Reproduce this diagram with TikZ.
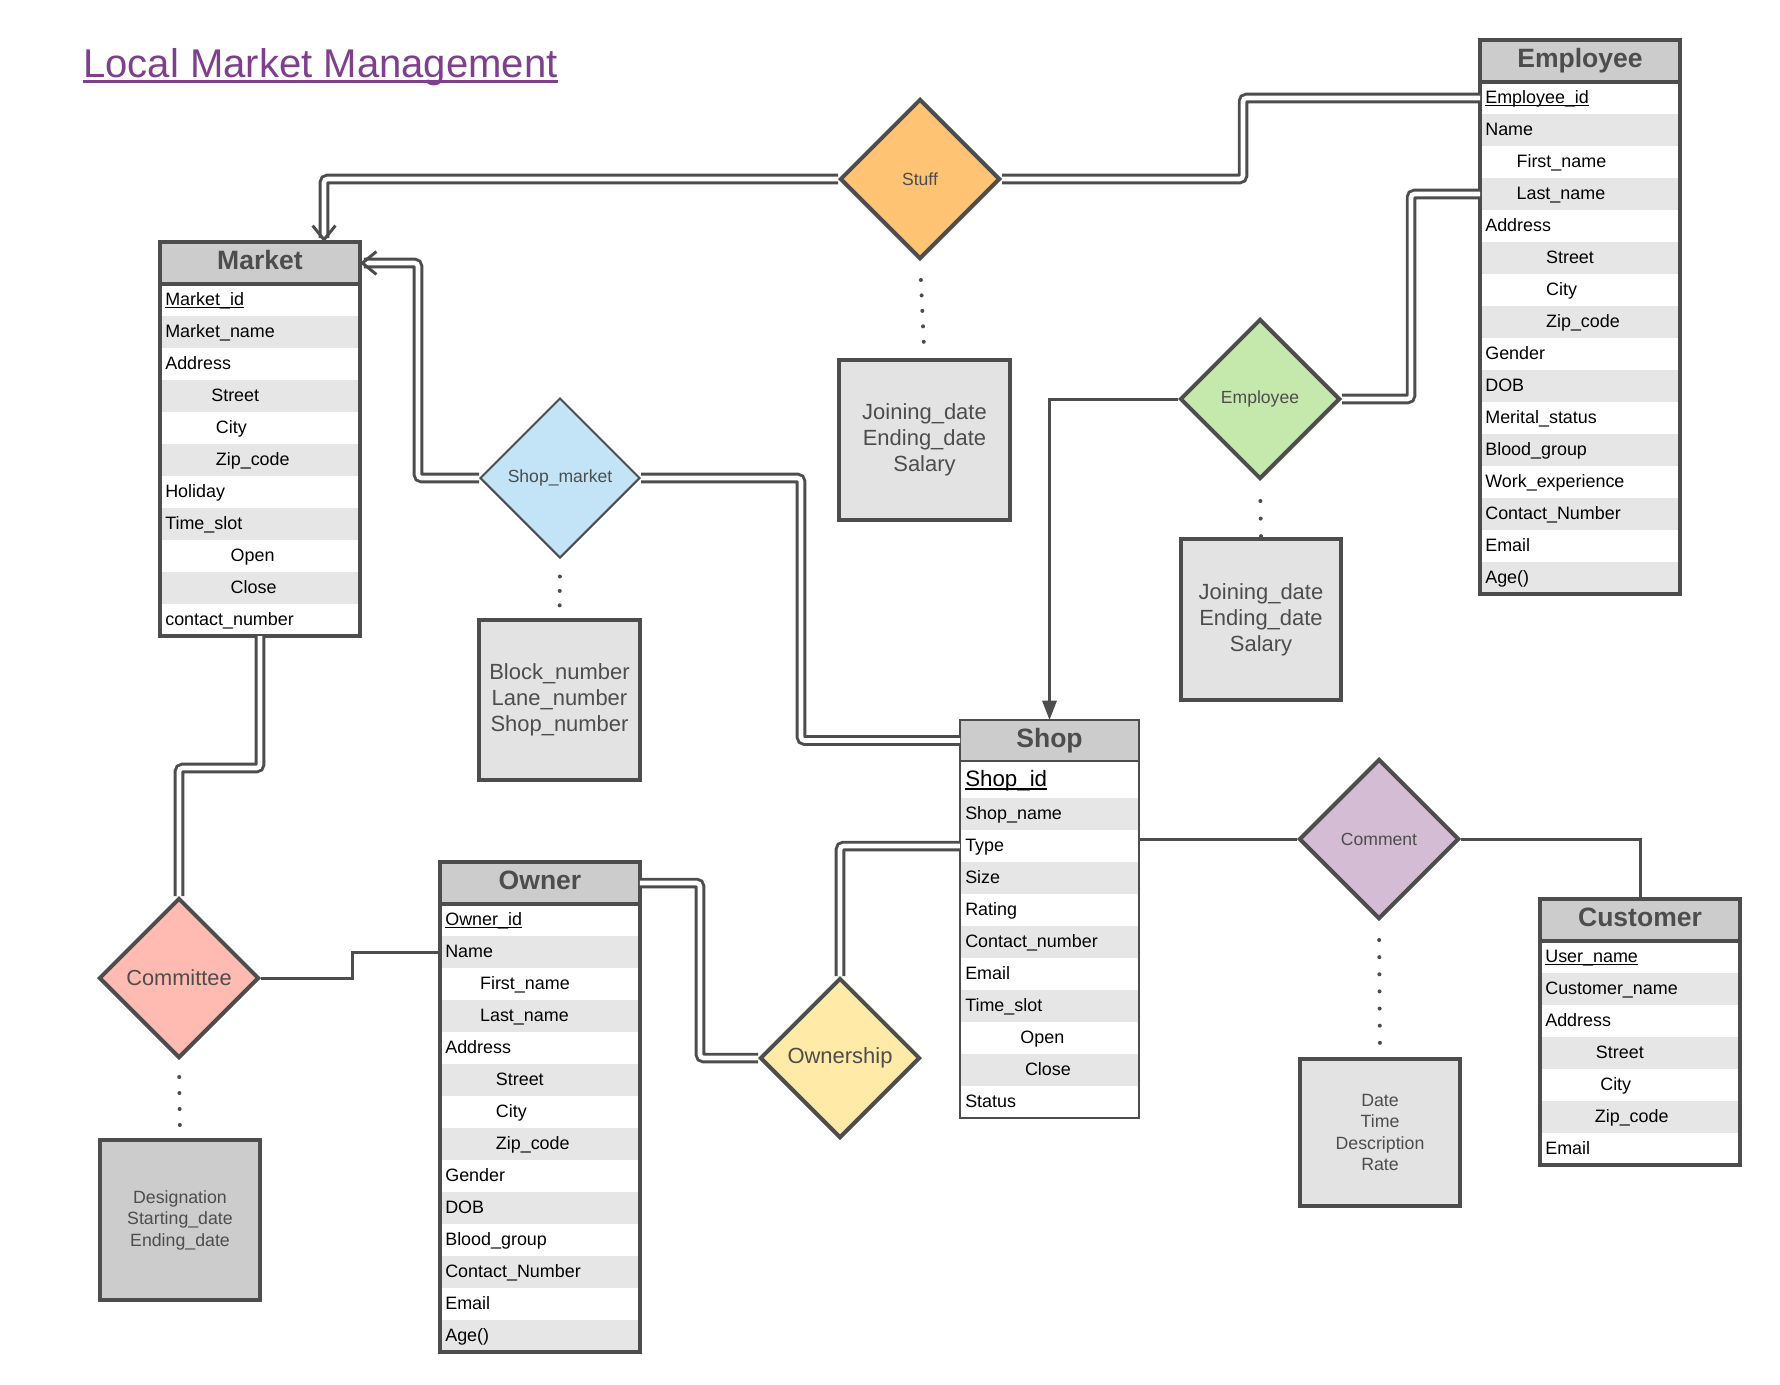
\documentclass[tikz,border=0pt]{standalone}
\usepackage{fontspec}
\setmainfont{Liberation Sans}
\usetikzlibrary{shapes.geometric, arrows.meta, calc}

\definecolor{linecol}{HTML}{4D4D4D}
\definecolor{headgray}{HTML}{CCCCCC}
\definecolor{rowgray}{HTML}{E6E6E6}
\definecolor{attrgray}{HTML}{E3E3E3}
\definecolor{titlecol}{HTML}{7E3F8C}
\definecolor{stuffcol}{HTML}{FFC374}
\definecolor{empcol}{HTML}{C5E8AD}
\definecolor{shopmktcol}{HTML}{C2E4F6}
\definecolor{commentcol}{HTML}{D5BCD5}
\definecolor{ownercol}{HTML}{FFEAA7}
\definecolor{cmtecol}{HTML}{FFBBB1}

% key attribute: underline at a fixed depth
\newcommand{\pkey}[1]{\setbox0\hbox{#1}\rlap{\copy0}\rule[-0.16em]{\wd0}{0.07em}}

\begin{document}
\begin{tikzpicture}[x=0.02cm, y=-0.02cm,
  con/.style={draw=linecol, line width=1.7pt},
  dbl/.style={draw=linecol, double=white, line width=1.7pt, double distance=2.6pt, rounded corners=2pt},
  dots/.style={draw=linecol, line width=2.3pt, line cap=round, dash pattern=on 0pt off #1},
  head/.style={draw=linecol, line width=2.3pt, fill=headgray, outer sep=0pt, inner sep=0pt,
    minimum width=4cm, minimum height=0.84cm, text=linecol, text height=10.8pt, text depth=3pt,
    font=\fontsize{15.1}{18}\bfseries},
  row/.style={minimum height=0.64cm, inner xsep=3pt, inner ysep=0pt, outer sep=0pt,
    text width=#1, align=left, text height=8.6pt, text depth=2.3pt, font=\fontsize{10.2}{12}\selectfont},
  frame/.style={draw=linecol, line width=2.3pt},
  rel/.style={diamond, aspect=1, draw=linecol, line width=2.3pt, inner sep=0pt,
    minimum width=3.2cm, minimum height=3.2cm, text=linecol, font=\fontsize{10}{12}\selectfont},
  attr/.style={draw=linecol, line width=2.3pt, fill=attrgray, inner sep=0pt, align=center,
    text=linecol, font=\fontsize{12.5}{14.8}\selectfont}
]
\useasboundingbox (0,0) rectangle (1780,1384);

% title
\node[anchor=base west, inner sep=0pt, text=titlecol, font=\fontsize{22.8}{27}\selectfont] (title) at (83,77) {Local Market Management};
\draw[titlecol, line width=1.6pt] ([yshift=-0.09cm]title.base west) -- ([yshift=-0.09cm]title.base east);

% Market
\foreach \ind/\txt [count=\i] in {0/\pkey{Market\_id}, 0/Market\_name, 0/Address, 26.2/Street, 28.8/City, 28.8/Zip\_code, 0/Holiday, 0/Time\_slot, 37.2/Open, 37.2/Close, 0/contact\_number} {
  \pgfmathtruncatemacro\f{100*(1-mod(\i,2))}
  \node[row=107.8pt, fill=rowgray!\f] (mkt\i) at (260,{268+32*\i}) {\hspace*{\ind pt}\txt};
}
\node[head] (mkthead) at (260,263) {Market};
\draw[frame] (mkthead.north west) rectangle (mkt11.south east);

% Employee
\foreach \ind/\txt [count=\i] in {0/\pkey{Employee\_id}, 0/Name, 17.8/First\_name, 17.8/Last\_name, 0/Address, 34.6/Street, 34.6/City, 34.6/Zip\_code, 0/Gender, 0/DOB, 0/Merital\_status, 0/Blood\_group, 0/Work\_experience, 0/Contact\_Number, 0/Email, 0/Age()} {
  \pgfmathtruncatemacro\f{100*(1-mod(\i,2))}
  \node[row=107.8pt, fill=rowgray!\f] (emp\i) at (1580,{66+32*\i}) {\hspace*{\ind pt}\txt};
}
\node[head] (emphead) at (1580,61) {Employee};
\draw[frame] (emphead.north west) rectangle (emp16.south east);

% Shop
\node[row=95.9pt, minimum height=0.74cm, text height=10.5pt, text depth=2.8pt, font=\fontsize{12.7}{15}\selectfont] (shop1) at (1049.5,779.5) {\pkey{Shop\_id}};
\foreach \ind/\txt [count=\i from 2] in {0/Shop\_name, 0/Type, 0/Size, 0/Rating, 0/Contact\_number, 0/Email, 0/Time\_slot, 31.4/Open, 34/Close, 0/Status} {
  \pgfmathtruncatemacro\f{100*(1-mod(\i,2))}
  \node[row=95.9pt, fill=rowgray!\f] (shop\i) at (1049.5,{750+32*\i}) {\hspace*{\ind pt}\txt};
}
\node[head, line width=1.15pt, minimum width=3.58cm, minimum height=0.82cm] (shophead) at (1049.5,740.5) {Shop};
\draw[frame, line width=1.15pt] (shophead.north west) rectangle (shop11.south east);

% Owner
\foreach \ind/\txt [count=\i] in {0/\pkey{Owner\_id}, 0/Name, 19.8/First\_name, 19.8/Last\_name, 0/Address, 28.8/Street, 28.8/City, 28.8/Zip\_code, 0/Gender, 0/DOB, 0/Blood\_group, 0/Contact\_Number, 0/Email, 0/Age()} {
  \pgfmathtruncatemacro\f{100*(1-mod(\i,2))}
  \node[row=107.8pt, fill=rowgray!\f] (own\i) at (540,{888+32*\i}) {\hspace*{\ind pt}\txt};
}
\node[head] (ownhead) at (540,883) {Owner};
\draw[frame] (ownhead.north west) rectangle (own14.south east);

% Customer
\foreach \ind/\txt [count=\i] in {0/\pkey{User\_name}, 0/Customer\_name, 0/Address, 28.8/Street, 31.3/City, 28.2/Zip\_code, 0/Email} {
  \pgfmathtruncatemacro\f{100*(1-mod(\i,2))}
  \node[row=107.8pt, fill=rowgray!\f] (cust\i) at (1640,{925+32*\i}) {\hspace*{\ind pt}\txt};
}
\node[head] (custhead) at (1640,920) {Customer};
\draw[frame] (custhead.north west) rectangle (cust7.south east);

% relationships
\node[rel, fill=stuffcol] (stuff) at (920,179) {Stuff};
\node[rel, fill=empcol] (empdia) at (1260,399) {Employee};
\node[rel, fill=shopmktcol, line width=1.15pt] (shopmkt) at (560,478) {Shop\_market};
\node[rel, fill=commentcol] (comment) at (1379,839) {Comment};
\node[rel, fill=ownercol, font=\fontsize{12.5}{15}\selectfont] (ownership) at (840,1058) {Ownership};
\node[rel, fill=cmtecol, font=\fontsize{12.4}{15}\selectfont] (committee) at (179,978) {Committee};

% relationship attributes
\node[attr, minimum width=3.42cm, minimum height=3.2cm] (stuffatt) at (924.5,440) {Joining\_date\\Ending\_date\\Salary};
\node[attr, minimum width=3.2cm, minimum height=3.22cm] (empatt) at (1261,619.5) {Joining\_date\\Ending\_date\\Salary};
\node[attr, minimum width=3.22cm, minimum height=3.2cm] (shopmktatt) at (559.5,700) {Block\_number\\Lane\_number\\Shop\_number};
\node[attr, fill=headgray, minimum width=3.2cm, minimum height=3.2cm, font=\fontsize{10.1}{12.3}\selectfont] (cmteatt) at (180,1220) {Designation\\Starting\_date\\Ending\_date};
\node[attr, minimum width=3.2cm, minimum height=2.94cm, font=\fontsize{10.1}{12.3}\selectfont] (comatt) at (1380,1132.5) {Date\\Time\\Description\\Rate};

\draw[dots=8.8pt, shorten <=0.38cm, shorten >=0.3cm] (stuff.south) -- (stuffatt.north);
\draw[dots=10pt, shorten <=0.4cm] (empdia.south) -- (empatt.north);
\draw[dots=8.2pt, shorten <=0.35cm, shorten >=0.22cm] (shopmkt.south) -- (shopmktatt.north);
\draw[dots=9.1pt, shorten <=0.34cm, shorten >=0.26cm] (committee.south) -- (cmteatt.north);
\draw[dots=9.75pt, shorten <=0.38cm, shorten >=0.25cm] (comment.south) -- (comatt.north);

% connectors
\draw[dbl, -{Straight Barb[length=8pt, width=13pt]}] (stuff.west) -| ($(mkthead.north)+(64,0)$);
\draw[dbl] (stuff.east) -- ++(241,0) |- (emp1.west);
\draw[dbl] (empdia.east) -- ++(69,0) |- (emp4.west);
\draw[con, -{Triangle[length=11pt, width=8pt]}] (empdia.west) -| (shophead.north);
\draw[dbl, -{Straight Barb[length=8pt, width=13pt]}] (shopmkt.west) -- ++(-61,0) |- (mkthead.east);
\draw[dbl] (shopmkt.east) -- ++(160,0) |- (shophead.west);
\draw[dbl] (mkt11.south) -- ++(0,132) -| (committee.north);
\draw[con] (committee.east) -- ++(91,0) |- (own2.west);
\draw[dbl] (ownhead.east) -- ++(60,0) |- (ownership.west);
\draw[dbl] (ownership.north) |- (shop3.west);
\draw[con] (comment.west -| shop3.east) -- (comment.west);
\draw[con] (comment.east) -| (custhead.north);
\end{tikzpicture}
\end{document}
